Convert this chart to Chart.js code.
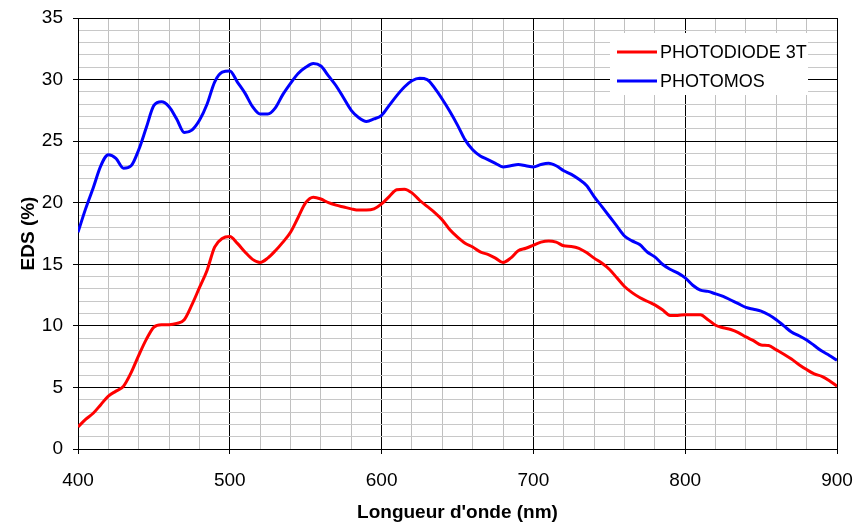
<!DOCTYPE html>
<html lang="fr">
<head>
    <meta charset="UTF-8">
    <title>EDS - Photodiode 3T / Photomos</title>
    <script src="https://cdn.jsdelivr.net/npm/chart.js"></script>
    <style>
        body {
            margin: 0;
            background: #fff;
        }
        canvas {
            display: block;
        }
    </style>
</head>
<body>
    <canvas id="edsChart" width="855" height="524"></canvas>
    <script>
        // Longueurs d'onde (nm), pas de 5 nm
        const longueurs = [
            400, 405, 410, 415, 420, 425, 430, 435, 440, 445,
            450, 455, 460, 465, 470, 475, 480, 485, 490, 495,
            500, 505, 510, 515, 520, 525, 530, 535, 540, 545,
            550, 555, 560, 565, 570, 575, 580, 585, 590, 595,
            600, 605, 610, 615, 620, 625, 630, 635, 640, 645,
            650, 655, 660, 665, 670, 675, 680, 685, 690, 695,
            700, 705, 710, 715, 720, 725, 730, 735, 740, 745,
            750, 755, 760, 765, 770, 775, 780, 785, 790, 795,
            800, 805, 810, 815, 820, 825, 830, 835, 840, 845,
            850, 855, 860, 865, 870, 875, 880, 885, 890, 895,
            900
        ];

        // EDS (%) de la photodiode 3T
        const photodiode3T = [
            1.8, 2.4, 2.9, 3.6, 4.3, 4.7, 5.1, 6.2, 7.6, 8.9,
            9.9, 10.1, 10.1, 10.2, 10.5, 11.7, 13.1, 14.5, 16.4, 17.1,
            17.25, 16.7, 16.0, 15.4, 15.15, 15.5, 16.1, 16.8, 17.6, 18.8,
            20.0, 20.45, 20.3, 20.0, 19.8, 19.65, 19.5, 19.4, 19.4, 19.5,
            19.9, 20.5, 21.05, 21.1, 20.8, 20.2, 19.7, 19.2, 18.6, 17.8,
            17.2, 16.7, 16.4, 16.0, 15.8, 15.5, 15.15, 15.5, 16.1, 16.3,
            16.55, 16.8, 16.9, 16.8, 16.5, 16.45, 16.3, 15.95, 15.5, 15.1,
            14.6, 13.9, 13.2, 12.7, 12.3, 12.0, 11.7, 11.3, 10.85, 10.85,
            10.9, 10.9, 10.9, 10.5, 10.05, 9.85, 9.7, 9.45, 9.1, 8.8,
            8.45, 8.4, 8.05, 7.7, 7.3, 6.85, 6.45, 6.1, 5.9, 5.55,
            5.1
        ];

        // EDS (%) du photomos
        const photomos = [
            17.6, 19.5, 21.2, 23.0, 23.9, 23.6, 22.8, 23.0, 24.3, 26.1,
            27.9, 28.2, 27.8, 26.8, 25.7, 25.9, 26.7, 28.0, 29.8, 30.6,
            30.7, 29.8, 28.9, 27.8, 27.2, 27.2, 27.7, 28.8, 29.7, 30.5,
            31.0, 31.3, 31.1, 30.3, 29.5, 28.5, 27.5, 26.9, 26.6, 26.8,
            27.1, 27.9, 28.7, 29.4, 29.9, 30.1, 30.0, 29.3, 28.4, 27.4,
            26.3, 25.1, 24.3, 23.8, 23.5, 23.2, 22.9, 23.0, 23.1, 23.0,
            22.9, 23.1, 23.2, 23.0, 22.6, 22.3, 21.9, 21.4, 20.5, 19.7,
            18.9, 18.1, 17.3, 16.9, 16.6, 16.0, 15.6, 15.0, 14.6, 14.3,
            13.9, 13.3, 12.9, 12.8, 12.6, 12.4, 12.1, 11.8, 11.5, 11.35,
            11.2, 10.9, 10.5, 10.0, 9.5, 9.2, 8.85, 8.4, 7.95, 7.6,
            7.2
        ];

        const series = ['PHOTODIODE 3T', 'PHOTOMOS'];
        const couleurs = ['#ff0000', '#0000ff'];

        const points = (valeurs) => longueurs.map((x, i) => ({ x: x, y: valeurs[i] }));

        const police = "'Liberation Sans', Arial, sans-serif";
        Chart.defaults.font.family = police;
        Chart.defaults.color = '#000';

        // Légende en haut à droite, à l'intérieur de la zone de tracé
        const legendeInterne = {
            id: 'legendeInterne',
            afterDatasetsDraw(chart) {
                const { ctx, chartArea } = chart;
                const x0 = chartArea.right - 227;
                const y0 = chartArea.top + 15;
                ctx.save();
                ctx.fillStyle = '#fff';
                ctx.fillRect(x0, y0, 198, 62);
                ctx.font = '18px ' + police;
                ctx.textBaseline = 'middle';
                series.forEach((nom, i) => {
                    const y = y0 + 19 + i * 29;
                    ctx.strokeStyle = couleurs[i];
                    ctx.lineWidth = 3;
                    ctx.beginPath();
                    ctx.moveTo(x0 + 7, y);
                    ctx.lineTo(x0 + 47, y);
                    ctx.stroke();
                    ctx.fillStyle = '#000';
                    ctx.fillText(nom, x0 + 50, y + 1);
                });
                ctx.restore();
            }
        };

        const ctx = document.getElementById('edsChart').getContext('2d');
        const edsChart = new Chart(ctx, {
            type: 'line',
            data: {
                datasets: [
                    {
                        label: series[0],
                        data: points(photodiode3T),
                        borderColor: couleurs[0],
                        backgroundColor: couleurs[0],
                        borderWidth: 3,
                        pointRadius: 0,
                        cubicInterpolationMode: 'monotone',
                        fill: false
                    },
                    {
                        label: series[1],
                        data: points(photomos),
                        borderColor: couleurs[1],
                        backgroundColor: couleurs[1],
                        borderWidth: 3,
                        pointRadius: 0,
                        cubicInterpolationMode: 'monotone',
                        fill: false
                    }
                ]
            },
            options: {
                responsive: false,
                animation: false,
                layout: {
                    padding: { top: 18, right: 18, left: 0, bottom: 0 }
                },
                plugins: {
                    legend: { display: false },
                    tooltip: { enabled: false }
                },
                scales: {
                    x: {
                        type: 'linear',
                        min: 400,
                        max: 900,
                        afterFit: (scale) => {
                            scale.height = 75;
                            scale.paddingLeft = 0;
                            scale.paddingRight = 0;
                        },
                        ticks: {
                            stepSize: 20,
                            autoSkip: false,
                            maxRotation: 0,
                            padding: 15,
                            font: { size: 19 },
                            callback: (v) => (v % 100 === 0 ? v : '')
                        },
                        grid: {
                            color: (c) => (c.tick.value % 100 === 0 ? '#000' : '#c0c0c0'),
                            tickColor: (c) => (c.tick.value % 100 === 0 ? '#000' : 'rgba(0,0,0,0)'),
                            tickLength: 5,
                            lineWidth: 1
                        },
                        border: { color: '#000', width: 1 },
                        title: {
                            display: true,
                            text: "Longueur d'onde (nm)",
                            font: { size: 19, weight: 'bold' },
                            padding: { top: 0, bottom: 0 }
                        }
                    },
                    y: {
                        min: 0,
                        max: 35,
                        afterFit: (scale) => {
                            scale.width = 78;
                            scale.paddingTop = 0;
                            scale.paddingBottom = 0;
                        },
                        ticks: {
                            stepSize: 1,
                            autoSkip: false,
                            padding: 10,
                            font: { size: 19 },
                            callback: (v) => (v % 5 === 0 ? v : '')
                        },
                        grid: {
                            color: (c) => (c.tick.value % 5 === 0 ? '#000' : '#c8c8c8'),
                            tickColor: (c) => (c.tick.value % 5 === 0 ? '#000' : 'rgba(0,0,0,0)'),
                            tickLength: 5,
                            lineWidth: 1
                        },
                        border: { color: '#000', width: 1 },
                        title: {
                            display: true,
                            text: 'EDS (%)',
                            font: { size: 19, weight: 'bold' },
                            padding: { top: 17, bottom: 0 }
                        }
                    }
                }
            },
            plugins: [legendeInterne]
        });
    </script>
</body>
</html>
